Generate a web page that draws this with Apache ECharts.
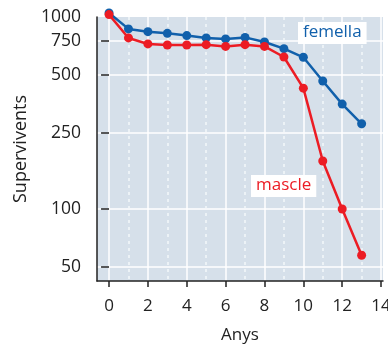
<!DOCTYPE html>
<html><head><meta charset="utf-8">
<script src="https://cdn.jsdelivr.net/npm/echarts@6/dist/echarts.min.js"></script>
<style>html,body{margin:0;padding:0;background:#fff}#c{width:388px;height:344px}</style>
</head><body><div id="c"></div>
<script>
const ages = [0,1,2,3,4,5,6,7,8,9,10,11,12,13];
const femella = [1050, 867, 839, 822, 800, 778, 769, 783, 741, 684, 617, 464, 352, 278];
const mascle = [1029, 778, 724, 715, 715, 718, 703, 718, 703, 619, 426, 178, 100, 57.5];
const yTickLabels = [50, 100, 250, 500, 750, 1000];
const yTickMarks = [50, 100, 250, 500, 750];
const xTickLabels = [0, 2, 4, 6, 8, 10, 12, 14];
const xMinor = [1, 3, 5, 7, 9, 11, 13];

const FONT = 'Open Sans';
const BLUE = '#1160ab';
const RED = '#ec1c24';
const Y_MIN = 42.2, Y_MAX = 1000;
const chart = echarts.init(document.getElementById('c'), null, {renderer: 'canvas'});
chart.setOption({
  animation: false,
  backgroundColor: '#fff',
  textStyle: {fontFamily: FONT},
  grid: {left: 97, right: 5, top: 17, bottom: 63, show: true, backgroundColor: '#d6e0ea', borderWidth: 0,
    containLabel: false, outerBoundsMode: 'none'},
  xAxis: [{
    type: 'value', min: -0.62, max: 14.1,
    name: 'Anys', nameLocation: 'middle', nameGap: 46,
    nameTextStyle: {fontFamily: FONT, fontSize: 17, color: '#222'},
    axisLine: {show: true, onZero: false, lineStyle: {color: '#222', width: 1.5}},
    axisTick: {show: true, length: 6, customValues: xTickLabels, lineStyle: {color: '#222', width: 1.5}},
    axisLabel: {customValues: xTickLabels, fontFamily: FONT, fontSize: 17, color: '#222', margin: 17},
    splitLine: {show: true, lineStyle: {color: '#ffffff', width: 1.5}}
  }, {
    type: 'value', min: -0.62, max: 14.1, position: 'bottom',
    axisLine: {show: false}, axisTick: {show: false, customValues: xMinor},
    axisLabel: {show: false, customValues: xMinor},
    splitLine: {show: true, lineStyle: {color: '#f4f7fa', width: 1.5, type: [3, 4]}}
  }],
  yAxis: [{
    type: 'log', logBase: 10, min: Y_MIN, max: Y_MAX,
    name: 'Supervivents', nameLocation: 'middle', nameGap: 65,
    nameTextStyle: {fontFamily: FONT, fontSize: 18, color: '#222'},
    axisLine: {show: true, onZero: false, lineStyle: {color: '#222', width: 1.5}},
    axisTick: {show: false, customValues: yTickMarks},
    axisLabel: {customValues: yTickLabels, fontFamily: FONT, fontSize: 17.5, color: '#222', margin: 16,
      formatter: v => String(Math.round(v))},
    splitLine: {show: true, lineStyle: {color: '#ffffff', width: 1.5}}
  }, {
    type: 'value', position: 'left', offset: 0,
    min: Math.log10(Y_MIN), max: Math.log10(Y_MAX),
    axisLine: {show: false},
    axisTick: {show: true, length: 8, customValues: yTickMarks.map(Math.log10), lineStyle: {color: '#222', width: 1.5}},
    axisLabel: {show: false, customValues: yTickMarks.map(Math.log10)},
    splitLine: {show: false}
  }],
  series: [{
    name: 'femella', type: 'line', clip: false, data: ages.map((a, i) => [a, femella[i]]),
    symbol: 'circle', symbolSize: 9, lineStyle: {color: BLUE, width: 2.5}, itemStyle: {color: BLUE}, z: 3
  }, {
    name: 'mascle', type: 'line', clip: false, data: ages.map((a, i) => [a, mascle[i]]),
    symbol: 'circle', symbolSize: 9, lineStyle: {color: RED, width: 2.5}, itemStyle: {color: RED}, z: 4
  }],
  graphic: [{
    type: 'text', left: 298, top: 22, z: 10,
    style: {text: 'femella', fill: BLUE, font: '17px "Open Sans"', backgroundColor: '#fff', padding: [2, 5, 3, 5]}
  }, {
    type: 'text', left: 251, top: 175, z: 10,
    style: {text: 'mascle', fill: RED, font: '17px "Open Sans"', backgroundColor: '#fff', padding: [2, 5, 3, 5]}
  }]
});
</script></body></html>
